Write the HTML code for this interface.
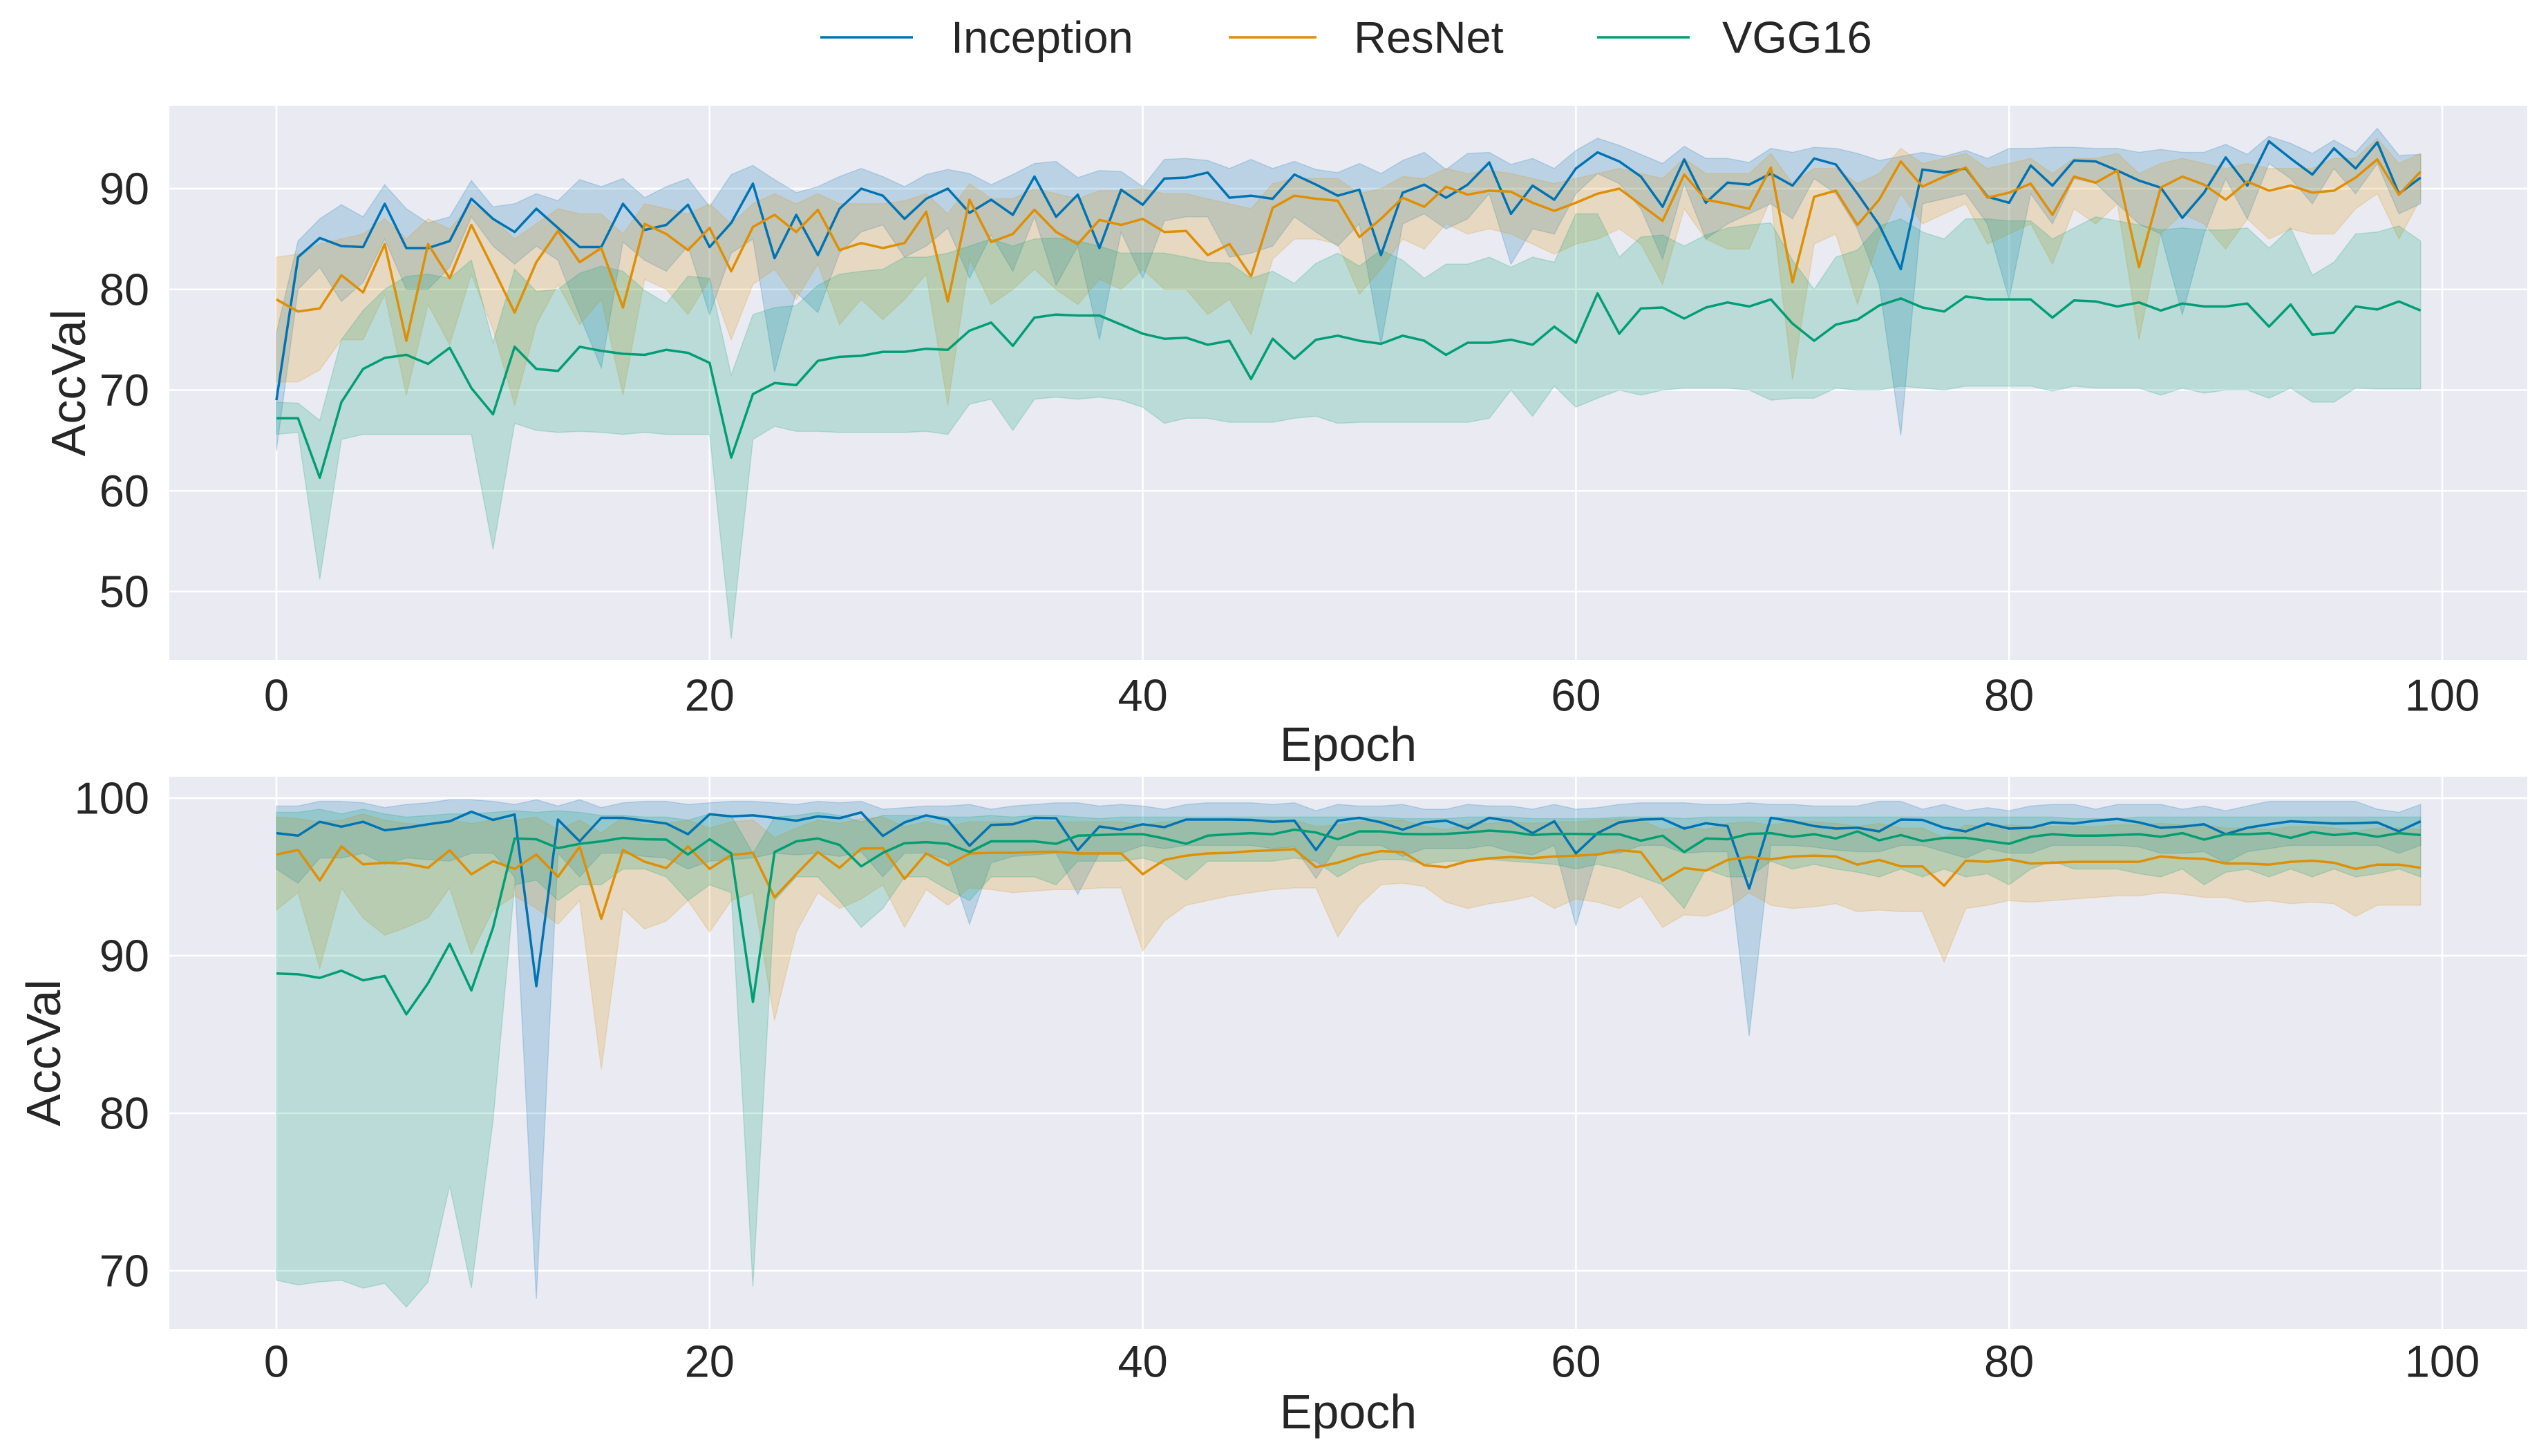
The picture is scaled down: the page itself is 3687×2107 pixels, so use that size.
<!DOCTYPE html>
<html><head><meta charset="utf-8"><style>
html,body{margin:0;padding:0;background:#fff}
svg{display:block}
text{font-family:"Liberation Sans",sans-serif;fill:#262626}
</style></head><body>
<svg id="c" width="3687" height="2107" viewBox="0 0 3687 2107" xmlns="http://www.w3.org/2000/svg">
<g>
<line x1="1187" y1="54" x2="1321" y2="54" stroke="#0173b2" stroke-width="3.5"/>
<text x="1376" y="54" font-size="65" dominant-baseline="central">Inception</text>
<line x1="1778" y1="54" x2="1905" y2="54" stroke="#de8f05" stroke-width="3.5"/>
<text x="1959" y="54" font-size="65" dominant-baseline="central">ResNet</text>
<line x1="2311" y1="54" x2="2445" y2="54" stroke="#029e73" stroke-width="3.5"/>
<text x="2492" y="54" font-size="65" dominant-baseline="central">VGG16</text>
</g>
</svg>
<script>
const xTicks=[0,20,40,60,80,100];
const topYTicks=[50,60,70,80,90];
const botYTicks=[70,80,90,100];
const seriesNames=["Inception","ResNet","VGG16"];
const colors=["#0173b2","#de8f05","#029e73"];

const topIncMean=[69.0,83.2,85.1,84.3,84.2,88.5,84.1,84.1,84.8,89.0,87.0,85.7,88.0,86.1,84.2,84.2,88.5,85.9,86.4,88.4,84.2,86.6,90.5,83.1,87.4,83.4,88.0,90.0,89.3,87.0,89.0,90.0,87.6,88.9,87.4,91.2,87.2,89.4,84.1,89.9,88.4,91.0,91.1,91.6,89.1,89.3,89.0,91.4,90.4,89.3,89.9,83.4,89.6,90.4,89.1,90.4,92.6,87.5,90.3,88.9,92.0,93.6,92.7,91.2,88.2,92.9,88.6,90.6,90.4,91.5,90.3,93.0,92.4,89.5,86.4,82.0,91.9,91.6,92.0,89.2,88.6,92.3,90.3,92.8,92.7,91.8,90.8,90.1,87.1,89.6,93.1,90.3,94.7,93.0,91.4,94.0,92.0,94.6,89.5,91.1];
const topIncHi=[75.7,84.8,87,88.4,87.2,90.4,88,86.6,87.2,90.8,88.2,88.5,89.5,88.8,90.9,90.2,91,89.1,90.2,91,88.2,91.4,92.3,90.9,89.6,90.2,91.2,92,91.2,90.2,91.4,91.9,91.5,90.4,91.4,92.5,92.7,91.1,91.8,91.7,90.2,92.9,93,92.8,92,92.9,92,92.7,91.9,91.6,92.5,91.5,92.8,93.6,91.9,93.5,93.6,92.4,93.0,92.0,93.8,95.0,94.3,93.4,92.5,94.2,93.0,93.0,92.6,94.0,93.6,94.1,94.0,93.5,92.8,93.2,93.6,93.2,93.8,93.0,94.0,94.0,94.1,94.1,94.0,94.0,93.6,93.9,93.6,93.6,94.4,93.4,95.2,94.5,93.5,94.8,93.6,96.0,93.3,93.4];
const topIncLo=[64,80,82.2,78.8,80.7,85,80,80,82.2,87.2,84.3,82.5,84.3,82.9,77.4,72.2,84.7,82.9,81.8,84.3,77.5,83.6,85,71.8,79.7,77.7,83.6,85.7,86.4,83.2,84.3,86.1,81.1,85.4,81.8,87.2,80.4,84.3,75.0,85.7,81.1,86.8,87.2,87.2,83.2,83.6,84.3,87.2,85.7,84.3,86.5,74.5,86.5,87.5,86,87,89.5,82.5,86,85.5,89.5,91.5,90.5,88,83,90.5,85,86.5,87.5,88.5,87,91,89.5,86,80.5,65.5,88.5,89,89.5,86.5,79,89.5,86.5,91,90.5,88.5,86.5,85.5,77.5,85.5,91,87,92.5,91,88.5,92,89.5,92.5,87.5,88.5];

const topResMean=[79.0,77.8,78.1,81.4,79.7,84.5,74.9,84.5,81.1,86.4,82.1,77.7,82.7,85.8,82.7,84.1,78.2,86.5,85.5,83.9,86.1,81.8,86.2,87.4,85.7,87.9,83.9,84.6,84.1,84.6,87.7,78.8,88.9,84.7,85.5,87.9,85.7,84.5,86.9,86.4,87.0,85.7,85.8,83.4,84.5,81.3,88.1,89.3,89.0,88.8,85.2,87.0,89.1,88.2,90.2,89.4,89.8,89.7,88.6,87.8,88.6,89.5,90.0,88.4,86.8,91.4,88.9,88.5,88.0,92.1,80.7,89.2,89.8,86.4,88.9,92.7,90.2,91.2,92.1,89.1,89.6,90.5,87.4,91.2,90.6,91.8,82.2,90.1,91.2,90.4,88.9,90.7,89.8,90.3,89.6,89.8,91.1,92.9,89.4,91.7];
const topResHi=[83.2,83.5,84.5,85,85.5,87,85,87,86,88.5,87,85,86.5,88,87.5,87.5,85.5,88.5,88,87.5,88.5,86.5,88.5,89.5,88.5,89.5,88.5,88.5,88.5,88.8,89.5,87.5,90.5,89,89,90,89.5,89,89.8,89.8,90,89.5,89.5,89,88.5,88,90.5,91,91,91,89.5,90,91.2,91,92,91.5,91.8,91.5,91,90.5,91,91.5,92,91.5,91,93,91.5,91.5,91.5,93.5,90.5,92,92,90.5,91.5,94,92.5,93,93.5,92,92.5,93,91.5,93,93,93.5,91.5,92.5,93,92.5,92,92.5,92,92,92,93,93,95,92.5,93.5];
const topResLo=[70.8,70.8,72,75,75,79.5,69.5,78.5,74.5,81.5,76,68.5,76.5,80.5,76.5,79,69.5,81,80,77.5,81,75,80.5,82,79,82.5,76.5,79,77,79,81.5,68.5,83,78.5,80,82,80,78.5,81,80,82,80,80,77.5,79,75.5,83,85,85,84.5,79.5,82,85,84,86.5,85.5,86,85.5,84.5,83.5,84.5,85,86,84.5,80.5,88,85,84,84,89,71,84.5,85.5,78.5,85,89.5,86.5,87.5,88.5,84.5,85.5,86.5,82.5,88,86.5,88.5,75,85.5,87.5,86.5,84,87,85,86,85.5,85.5,88,89.5,85,89];

const topVggMean=[67.2,67.2,61.3,68.8,72.1,73.2,73.5,72.6,74.2,70.2,67.6,74.3,72.1,71.9,74.3,73.9,73.6,73.5,74.0,73.7,72.7,63.3,69.6,70.7,70.5,72.9,73.3,73.4,73.8,73.8,74.1,74.0,75.9,76.7,74.4,77.2,77.5,77.4,77.4,76.5,75.6,75.1,75.2,74.5,74.9,71.1,75.1,73.1,75.0,75.4,74.9,74.6,75.4,74.9,73.5,74.7,74.7,75.0,74.5,76.3,74.7,79.6,75.6,78.1,78.2,77.1,78.2,78.7,78.3,79.0,76.6,74.9,76.5,77.0,78.4,79.1,78.2,77.8,79.3,79.0,79.0,79.0,77.2,78.9,78.8,78.3,78.7,77.9,78.6,78.3,78.3,78.6,76.3,78.5,75.5,75.7,78.3,78.0,78.8,77.9];
const topVggHi=[68.8,68.7,67,75,77.9,80,81.3,81.5,81.1,82.9,74.7,82,79.8,80,81.6,82.3,81.8,79.9,78.6,81.3,81.1,71.5,77.5,78.2,78.4,80.4,81.5,81.8,82,83.2,83.2,83.6,84.3,85,84.3,85,85.1,84.8,84.3,83.6,83.6,83.6,83.2,82.7,82.6,81.1,81.8,80.6,82.6,83.6,82.3,83.9,82.9,81.1,82.5,82.5,83.2,82.2,83.2,82.7,87.5,87.5,83.2,85.2,85.4,84.3,85.4,86.1,86.4,86.6,82.9,80,83.2,83.9,86.3,87,85.7,85,87,87,86.8,86.8,85,86.1,87.2,86.8,86.4,85.9,86.1,85.9,85.9,86.1,84.1,86.1,81.4,82.7,85.5,85.7,86.3,84.8];
const topVggLo=[65.6,65.8,51.2,65.1,65.6,65.6,65.6,65.6,65.6,65.6,54.2,66.7,66,65.8,65.9,65.8,65.6,65.8,65.6,65.6,65.6,45.3,65.1,66.4,65.9,65.9,65.8,65.8,65.8,65.8,65.9,65.6,68.6,69.1,66,69.1,69.3,69.1,69.3,69,68.3,66.7,67.2,67.2,66.8,66.8,66.8,67.2,67.4,66.7,66.8,66.8,66.8,66.8,66.8,66.8,67.2,70.0,67.4,70.4,68.3,69.2,70.0,69.5,70.0,70.2,70.2,70.2,70.0,69.0,69.2,69.2,70.2,70.0,70.0,70.4,70.2,70.0,70.4,70.4,70.4,70.4,69.9,70.4,70.2,70.2,70.2,69.5,70.2,69.7,70.0,70.0,69.2,70.2,68.8,68.8,70.2,70.1,70.1,70.1];

const botIncMean=[97.78,97.62,98.5,98.19,98.5,97.96,98.12,98.34,98.53,99.14,98.62,98.96,88.07,98.64,97.26,98.75,98.75,98.57,98.39,97.71,98.98,98.84,98.91,98.75,98.57,98.84,98.73,99.09,97.6,98.46,98.91,98.62,96.98,98.3,98.34,98.75,98.73,96.7,98.2,98.0,98.34,98.16,98.64,98.64,98.64,98.62,98.5,98.57,96.71,98.57,98.75,98.46,98.0,98.46,98.57,98.07,98.75,98.53,97.78,98.53,96.49,97.78,98.46,98.64,98.68,98.07,98.41,98.23,94.26,98.75,98.53,98.23,98.07,98.12,97.89,98.64,98.62,98.12,97.89,98.39,98.07,98.12,98.46,98.39,98.57,98.68,98.46,98.12,98.19,98.34,97.71,98.12,98.34,98.53,98.46,98.39,98.41,98.46,97.89,98.53];
const botIncHi=[99.5,99.5,99.8,99.8,99.7,99.4,99.6,99.7,99.9,99.9,99.8,99.6,99.9,99.5,99.9,99.4,99.7,99.8,99.8,99.6,99.7,99.8,99.8,99.7,99.6,99.8,99.7,99.8,99.3,99.4,99.5,99.5,99.6,99.3,99.5,99.6,99.7,99.7,99.5,99.6,99.5,99.3,99.6,99.7,99.7,99.7,99.6,99.7,99.2,99.6,99.5,99.5,99.6,99.3,99.3,99.6,99.5,99.5,99.3,99.6,99.3,99.4,99.6,99.7,99.7,99.7,99.6,99.6,99.7,99.6,99.6,99.5,99.5,99.5,99.8,99.8,99.3,99.6,99.2,99.4,99.2,99.5,99.6,99.6,99.3,99.6,99.6,99.6,99.3,99.5,99.2,99.5,99.8,99.8,99.8,99.8,99.8,99.3,99.1,99.6];
const botIncLo=[95.5,94.6,96.2,96.2,96.5,95.8,96.2,96.1,96.0,96.5,96.5,95.0,68.2,96.5,95.0,96.5,96.5,96.3,96.2,95.5,96.0,96.1,96.2,96.5,96.4,96.5,96.3,96.6,95.0,96.5,96.5,96.1,92.0,95.9,96.3,96.4,96.5,93.9,96.5,96.5,97.0,96.8,97.0,97.0,97.0,97.0,96.8,96.9,94.9,97.0,97.0,97.0,96.3,96.8,96.8,96.8,97.0,96.6,96.4,97.0,91.9,96.5,96.5,97.0,97.0,96.5,96.6,96.6,84.9,97.0,97.0,96.9,96.7,96.6,96.6,97.0,97.0,96.6,96.2,96.8,96.5,96.5,97.0,97.0,97.0,97.0,96.9,96.5,96.5,96.6,95.9,96.6,96.8,97.0,97.0,97.0,97.0,97.0,96.5,97.0];

const botResMean=[96.42,96.71,94.78,96.94,95.8,95.9,95.85,95.58,96.69,95.17,96.0,95.51,96.42,95.01,96.92,92.34,96.71,95.96,95.56,96.94,95.51,96.39,96.53,93.7,95.17,96.58,95.58,96.8,96.83,94.88,96.49,95.74,96.49,96.53,96.53,96.58,96.6,96.49,96.49,96.49,95.17,96.08,96.35,96.49,96.53,96.64,96.69,96.76,95.62,95.9,96.35,96.64,96.58,95.74,95.62,96.0,96.19,96.26,96.19,96.3,96.35,96.42,96.69,96.58,94.76,95.56,95.4,96.08,96.26,96.12,96.3,96.35,96.3,95.78,96.08,95.67,95.67,94.44,96.03,95.96,96.12,95.85,95.9,95.96,95.96,95.96,95.96,96.3,96.19,96.15,95.85,95.85,95.78,95.96,96.03,95.9,95.51,95.78,95.78,95.58];
const botResHi=[98.8,98.7,98.5,98.6,99.0,98.6,98.4,98.3,98.6,98.4,98.6,98.6,98.8,98.0,98.6,97.8,98.8,98.3,98.4,98.6,98.1,98.5,98.6,97.5,98.1,98.6,98.4,98.7,98.8,98.2,98.5,98.2,98.5,98.5,98.5,98.5,98.5,98.5,98.5,98.5,98.3,98.5,98.5,98.5,98.5,98.6,98.6,98.6,98.2,98.3,98.5,98.6,98.6,98.2,98.0,98.4,98.4,98.5,98.4,98.5,98.5,98.6,98.7,98.6,98.0,98.2,98.0,98.4,98.5,98.3,98.5,98.5,98.4,98.2,98.4,98.1,98.1,97.5,98.3,98.2,98.3,98.2,98.2,98.2,98.2,98.3,98.3,98.4,98.3,98.3,98.1,98.1,98.0,98.2,98.2,98.1,97.9,98.1,98.1,98.0];
const botResLo=[92.9,94,89.2,94.3,92.4,91.3,91.8,92.4,94.3,90.1,92.9,93.8,93,92,93.5,82.8,93.0,91.7,92.2,93.5,91.5,93.5,94,85.9,91.5,94.0,93,93.6,94.5,91.8,94.2,93.2,94.3,94.2,94,94.1,94.2,94.2,94.3,94.3,90.3,92.2,93.2,93.5,93.8,94,94.2,94.3,94.3,91.2,93.2,94.5,94.6,94.4,93.4,93.0,93.3,93.5,93.8,93.0,93.6,93.4,93.0,93.8,91.8,92.6,92.5,93.0,94.0,93.2,93.0,93.1,93.3,92.8,92.9,92.8,92.8,89.6,93.0,93.2,93.5,93.4,93.5,93.6,93.7,93.8,93.8,94.0,93.9,93.7,93.7,93.4,93.5,93.3,93.4,93.3,92.5,93.2,93.2,93.2];

const botVggMean=[88.87,88.82,88.59,89.05,88.44,88.71,86.28,88.25,90.75,87.8,91.77,97.44,97.39,96.83,97.1,97.26,97.48,97.39,97.37,96.42,97.39,96.49,87.07,96.58,97.26,97.44,97.03,95.67,96.53,97.14,97.21,97.1,96.58,97.26,97.26,97.26,97.1,97.62,97.66,97.71,97.71,97.44,97.1,97.62,97.71,97.78,97.71,98.0,97.82,97.39,97.89,97.89,97.73,97.71,97.73,97.82,97.94,97.85,97.66,97.73,97.73,97.71,97.71,97.3,97.62,96.58,97.44,97.39,97.73,97.78,97.55,97.71,97.44,97.89,97.32,97.66,97.28,97.48,97.48,97.28,97.1,97.55,97.71,97.62,97.62,97.66,97.71,97.55,97.78,97.37,97.71,97.71,97.78,97.48,97.85,97.66,97.78,97.55,97.78,97.66];
const botVggHi=[99.1,99.1,99.3,99.0,99.3,99.0,98.8,98.9,99.0,99.0,99.1,99.2,99.1,99.2,99.1,98.9,98.9,98.8,98.8,98.6,99.0,98.9,96.5,98.8,98.9,99.1,98.9,98.5,98.9,98.9,98.9,98.8,98.8,98.9,98.8,98.9,98.9,98.8,98.7,98.8,98.8,98.8,98.8,98.8,98.8,98.8,98.8,98.8,98.8,98.8,98.8,98.8,98.7,98.7,98.7,98.8,98.8,98.8,98.7,98.7,98.7,98.7,98.8,98.8,98.8,98.7,98.8,98.8,98.8,98.8,98.8,98.8,98.8,98.8,98.8,98.8,98.8,98.8,98.8,98.8,98.8,98.8,98.8,98.7,98.7,98.7,98.8,98.8,98.8,98.8,98.8,98.8,98.8,98.8,98.8,98.8,98.8,98.8,98.8,98.8];
const botVggLo=[69.4,69.1,69.3,69.4,68.9,69.2,67.7,69.3,75.4,68.9,79.5,94.5,94.8,93.5,94.5,94.5,95.5,95.5,95.0,93.5,94.5,94.0,69.0,93.5,95.0,95.0,93.5,91.8,93.0,95.0,95.0,94.2,93.5,95.0,95.0,95.0,94.5,96.0,96.0,96.0,96.2,95.8,94.8,96.0,96.0,96.0,96.0,96.2,96.0,95.0,95.8,96.1,96.1,95.8,96.0,96.0,96.1,96.0,95.9,95.8,95.5,95.8,95.5,95.0,94.5,93.0,95.5,95.0,95.0,96.0,95.5,95.8,95.5,95.3,95.0,95.5,95.0,95.5,95.0,95.2,94.5,95.5,96.0,95.5,95.5,95.5,95.2,95.0,95.5,94.5,95.3,95.5,95.0,95.5,95.0,95.5,95.0,95.2,95.5,95.0];

const NS="http://www.w3.org/2000/svg";
const svg=document.getElementById('c');
function mk(tag,attrs,parent){const e=document.createElementNS(NS,tag);for(const k in attrs)e.setAttribute(k,attrs[k]);(parent||svg).appendChild(e);return e;}
function xS(e){return 400+e*31.34;}
const panels=[
 {name:'top',y0:153,y1:955,yS:v=>273-(v-90)*14.575,ticks:topYTicks,tickY:1006,labY:1077,ylabX:99,
  series:[[topIncMean,topIncLo,topIncHi],[topResMean,topResLo,topResHi],[topVggMean,topVggLo,topVggHi]]},
 {name:'bottom',y0:1124,y1:1923,yS:v=>1155-(v-100)*22.8,ticks:botYTicks,tickY:1970,labY:2043,ylabX:63,
  series:[[botIncMean,botIncLo,botIncHi],[botResMean,botResLo,botResHi],[botVggMean,botVggLo,botVggHi]]}
];
panels.forEach(p=>{
 const g=mk('g',{});
 
 
 const bg=mk('rect',{x:245,y:p.y0,width:3412,height:p.y1-p.y0,fill:'#eaeaf2'},g);
 
 
 const cp=mk('clipPath',{id:'clip-'+p.name},g);
 mk('rect',{x:245,y:p.y0,width:3412,height:p.y1-p.y0},cp);
 xTicks.forEach(t=>{
  const l=mk('line',{x1:xS(t),x2:xS(t),y1:p.y0,y2:p.y1,stroke:'#fff','stroke-width':2.5},g);
  
  
  const tx=mk('text',{x:xS(t),y:p.tickY,'font-size':65,'text-anchor':'middle','dominant-baseline':'central'},g);
  tx.textContent=t;
  
  
 });
 p.ticks.forEach(t=>{
  const l=mk('line',{x1:245,x2:3657,y1:p.yS(t),y2:p.yS(t),stroke:'#fff','stroke-width':2.5},g);
  
  
  const tx=mk('text',{x:216,y:p.yS(t),'font-size':65,'text-anchor':'end','dominant-baseline':'central'},g);
  tx.textContent=t;
  
  
 });
 const xl=mk('text',{x:1951,y:p.labY,'font-size':70,'text-anchor':'middle','dominant-baseline':'central'},g);
 xl.textContent='Epoch';
 
 
 const cy=(p.y0+p.y1)/2;
 const yl=mk('text',{x:p.ylabX,y:cy,'font-size':70,'text-anchor':'middle','dominant-baseline':'central',transform:'rotate(-90 '+p.ylabX+' '+cy+')'},g);
 yl.textContent='AccVal';
 
 
 const dg=mk('g',{'clip-path':'url(#clip-'+p.name+')'},g);
 p.series.forEach((s,i)=>{
  const [m,lo,hi]=s;
  let d='M';
  for(let k=0;k<hi.length;k++)d+=(k?'L':'')+xS(k).toFixed(1)+','+p.yS(hi[k]).toFixed(1);
  for(let k=lo.length-1;k>=0;k--)d+='L'+xS(k).toFixed(1)+','+p.yS(lo[k]).toFixed(1);
  d+='Z';
  const band=mk('path',{d:d,fill:colors[i],'fill-opacity':0.2,stroke:colors[i],'stroke-opacity':0.2,'stroke-width':1.5},dg);
  
  
 });
 p.series.forEach((s,i)=>{
  const m=s[0];
  const pts=m.map((v,k)=>xS(k).toFixed(1)+','+p.yS(v).toFixed(1)).join(' ');
  const ln=mk('polyline',{points:pts,fill:'none',stroke:colors[i],'stroke-width':3.5,'stroke-linejoin':'round'},dg);
  
  
 });
});
</script>
</body></html>
